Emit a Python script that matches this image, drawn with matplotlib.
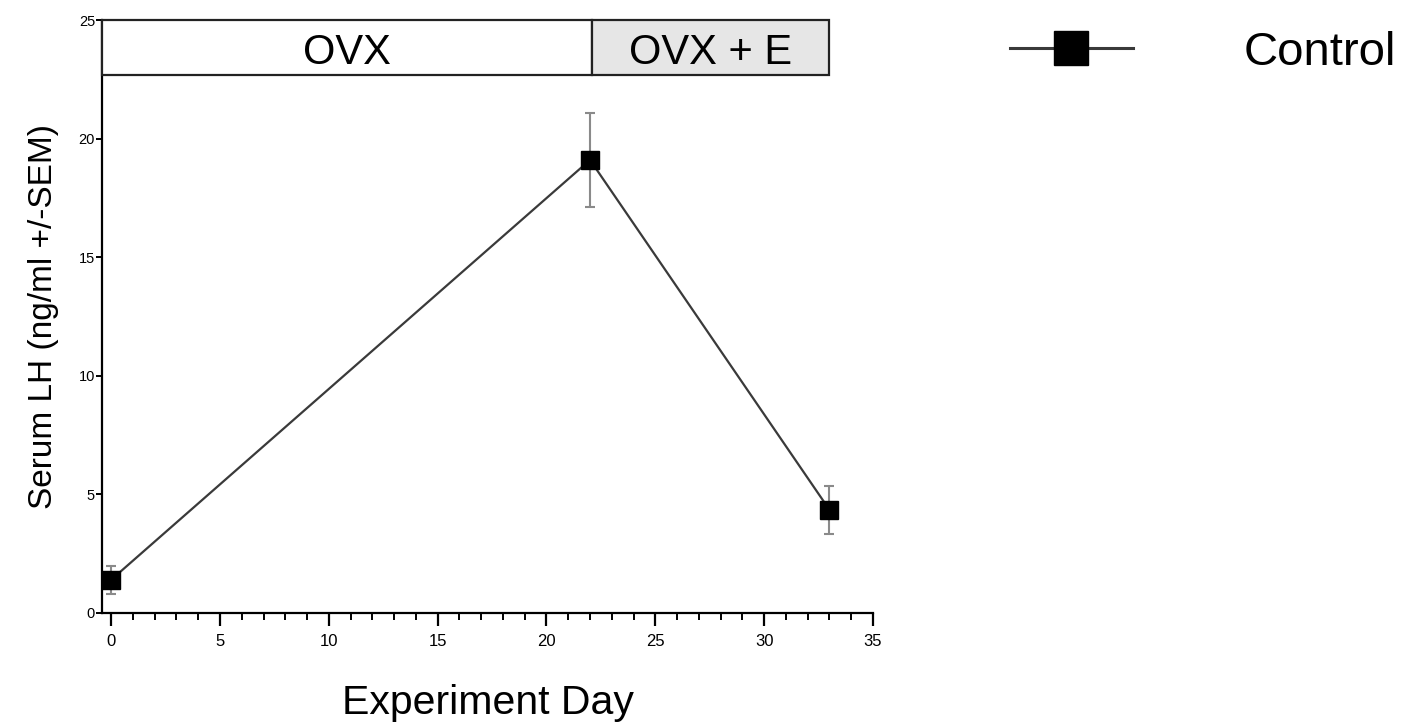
import matplotlib
matplotlib.use("Agg")
import matplotlib.pyplot as plt
from matplotlib.patches import Rectangle
from matplotlib.lines import Line2D
from matplotlib.ticker import MultipleLocator

days = [0, 22, 33]
lh_mean = [1.4, 19.1, 4.35]
lh_sem = [0.6, 2.0, 1.0]
series_label = "Control"
phase_labels = ["OVX", "OVX + E"]
phase_edges = [-0.42, 22.1, 33.0]
phase_colors = ["white", "#e6e6e6"]
xlabel = "Experiment Day"
ylabel = "Serum LH (ng/ml +/-SEM)"

plt.rcParams['font.family'] = ['Liberation Sans', 'DejaVu Sans']

fig = plt.figure(figsize=(14.05, 7.26), dpi=100)
ax = fig.add_axes([102/1405, 1-613/726, (873-102)/1405, (613-20)/726])

ax.errorbar(days, lh_mean, yerr=lh_sem, color="#3a3a3a", lw=1.6,
            marker="s", markersize=12.5, markerfacecolor="black",
            markeredgecolor="black", ecolor="#8a8a8a", elinewidth=1.5,
            capsize=3.5, capthick=1.5, zorder=3)

ax.set_xlim(-0.42, 35)
ax.set_ylim(0, 25)
ax.xaxis.set_major_locator(MultipleLocator(5))
ax.xaxis.set_minor_locator(MultipleLocator(1))
ax.yaxis.set_major_locator(MultipleLocator(5))
ax.spines['top'].set_visible(False)
ax.spines['right'].set_visible(False)
ax.spines['left'].set_linewidth(1.6)
ax.spines['bottom'].set_linewidth(1.6)
ax.tick_params(axis='x', which='major', direction='out', length=9, width=1.6, labelsize=12, pad=6)
ax.tick_params(axis='x', which='minor', direction='out', length=5, width=1.4)
ax.tick_params(axis='y', which='major', direction='out', length=4, width=1.4, labelsize=10.5, pad=1)

# phase header box
ytop, ybot = 25, 22.7
for i, lab in enumerate(phase_labels):
    x0, x1 = phase_edges[i], phase_edges[i+1]
    ax.add_patch(Rectangle((x0, ybot), x1-x0, ytop-ybot, facecolor=phase_colors[i],
                           edgecolor="#222222", lw=1.6, zorder=4, clip_on=False))
    ax.text((x0+x1)/2, 23.15, lab, ha='center', va='baseline',
            fontsize=30, zorder=5)

ax.set_xlabel(xlabel, fontsize=29.5, labelpad=25)
ax.set_ylabel(ylabel, fontsize=24, labelpad=14)

proxy = Line2D([], [], color="#3a3a3a", lw=2.2, marker="s", markersize=24,
               markerfacecolor="black", markeredgecolor="black")
fig.legend(handles=[proxy], labels=[series_label], loc='center left',
           bbox_to_anchor=(1010/1405, 1-53/726), frameon=False, fontsize=34,
           handlelength=2.6, handletextpad=2.35, borderpad=0, borderaxespad=0)

fig.savefig("out.png", dpi=100)
